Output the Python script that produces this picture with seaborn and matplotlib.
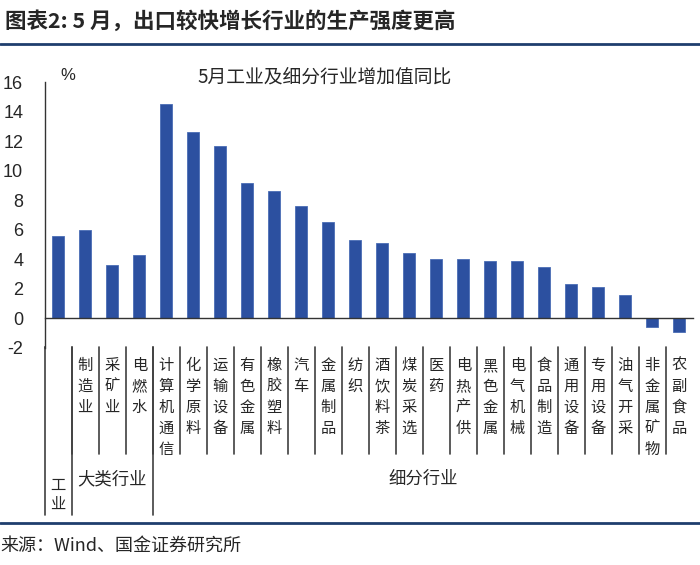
import numpy as np
import pandas as pd
import seaborn as sns
import matplotlib.pyplot as plt
from matplotlib.transforms import blended_transform_factory
from matplotlib.lines import Line2D

categories = ["工业", "制造业", "采矿业", "电燃水", "计算机通信", "化学原料", "运输设备",
              "有色金属", "橡胶塑料", "汽车", "金属制品", "纺织", "酒饮料茶", "煤炭采选",
              "医药", "电热产供", "黑色金属", "电气机械", "食品制造", "通用设备", "专用设备",
              "油气开采", "非金属矿物", "农副食品"]
values = [5.6, 6.0, 3.6, 4.3, 14.5, 12.6, 11.7, 9.2, 8.6, 7.6, 6.5, 5.3, 5.1, 4.4,
          4.0, 4.0, 3.9, 3.9, 3.5, 2.3, 2.1, 1.6, -0.6, -0.9]
groups = ["工业", "大类行业", "细分行业"]
group_sizes = [1, 3, 20]
yticks = [-2, 0, 2, 4, 6, 8, 10, 12, 14, 16]

sns.set_style("white")
plt.rcParams['font.family'] = ['Noto Sans CJK SC', 'DejaVu Sans']

W, H = 700, 565
fig = plt.figure(figsize=(W / 100, H / 100), dpi=100)
ax_left, ax_right = 44.7, 692.7
ax_top, ax_bot = 82.3, 347.8
ax = fig.add_axes([ax_left / W, 1 - ax_bot / H, (ax_right - ax_left) / W, (ax_bot - ax_top) / H])

df = pd.DataFrame({"cat": categories, "val": values})
sns.barplot(data=df, x="cat", y="val", color="#2C50A0", width=0.44, ax=ax,
            saturation=1, edgecolor="#4A6DB5", linewidth=0.6)
n = len(categories)
ax.set_xlim(-0.5, n - 0.5)
ax.set_ylim(-2, 16)
ax.set_yticks(yticks)
ax.set_yticklabels([str(t) for t in yticks], fontfamily='Liberation Sans', fontsize=13)
ax.set_xlabel("")
ax.set_ylabel("")

for s in ["top", "right"]:
    ax.spines[s].set_visible(False)
ax.spines["left"].set_color("#333333")
ax.spines["left"].set_linewidth(1.0)
ax.spines["bottom"].set_position(("data", 0))
ax.spines["bottom"].set_color("#333333")
ax.spines["bottom"].set_linewidth(1.0)
ax.set_xticks(np.arange(n - 1) + 0.5)
ax.set_xticklabels([])
ax.tick_params(axis="x", direction="out", length=5, width=1, color="#333333")
ax.tick_params(axis="y", direction="in", length=5, width=1, color="#333333", pad=15.5)

# percentage sign and inner title
fig.text(68 / W, 1 - 75 / H, "%", fontsize=12, fontfamily='Liberation Sans', ha='center', va='center')
fig.text(325 / W, 1 - 77 / H, "5月工业及细分行业增加值同比", fontsize=13.5, ha='center', va='center')

# category table beneath the axis
tr = blended_transform_factory(ax.transData, fig.transFigure)
y_top = 1 - 347.3 / H
y_short = 1 - 454 / H
y_long = 1 - 515 / H
line_kw = dict(color="#404040", lw=1.2, clip_on=False, transform=tr)

boundaries_long = np.cumsum([0] + group_sizes[:-1]) - 0.5  # -0.5, 0.5, 3.5
for b in np.arange(n - 1) + 0.5:
    ax.add_line(Line2D([b, b], [y_top, y_short], **line_kw))
for b in boundaries_long:
    ax.add_line(Line2D([b, b], [y_top, y_long], **line_kw))
# extend y-axis down
ax.add_line(Line2D([-0.5, -0.5], [1 - ax_bot / H, y_top], **line_kw))

for i, c in enumerate(categories):
    if i < group_sizes[0]:
        continue
    ax.text(i, 1 - 357 / H, "\n".join(c), transform=tr, ha='center', va='top',
            fontsize=11, linespacing=1.3)

start = 0
for g, sz in zip(groups, group_sizes):
    center = start + (sz - 1) / 2
    if sz == 1:
        ax.text(center, 1 - 495 / H, "\n".join(g), transform=tr, ha='center', va='center',
                fontsize=11, linespacing=1.2)
    else:
        ax.text(center, 1 - 479 / H, g, transform=tr, ha='center', va='center', fontsize=12.5)
    start += sz

# header / footer
fig.text(5 / W, 1 - 21 / H, "图表2: 5 月，出口较快增长行业的生产强度更高", fontsize=15.5,
         fontweight='bold', ha='left', va='center')
fig.add_artist(Line2D([0, 1], [1 - 43.5 / H, 1 - 43.5 / H], color="#1F3E6E", lw=2,
                      transform=fig.transFigure))
fig.add_artist(Line2D([0, 1], [1 - 523 / H, 1 - 523 / H], color="#1F3E6E", lw=2,
                      transform=fig.transFigure))
fig.text(0 / W, 1 - 546 / H, "来源：Wind、国金证券研究所", fontsize=13, ha='left', va='center')

fig.savefig("out.png", dpi=100)
